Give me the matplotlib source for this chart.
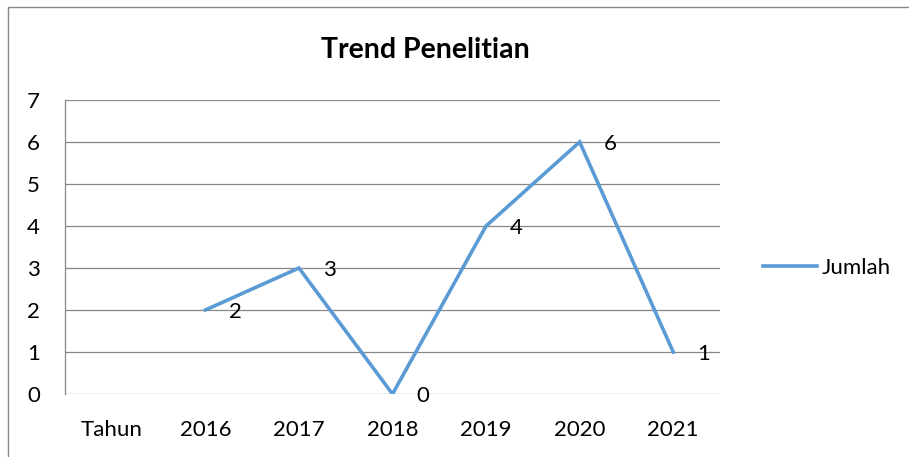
import numpy as np
from matplotlib import pyplot as plt
from matplotlib.patches import Rectangle

plt.rcParams['font.family'] = ['Lato', 'DejaVu Sans']

# data
categories = ["Tahun", "2016", "2017", "2018", "2019", "2020", "2021"]
jumlah = [np.nan, 2, 3, 0, 4, 6, 1]
labels = ["", "2", "3", "0", "4", "6", "1"]

W, H = 909, 457
fig = plt.figure(figsize=(W / 100, H / 100), dpi=100)
ax = fig.add_axes([65 / W, 1 - 394 / H, (720 - 65) / W, (394 - 100) / H])

x = np.arange(len(categories))
ax.plot(x, jumlah, color='#5B9BD5', lw=2.6, solid_joinstyle='miter', label='Jumlah')

for xi, yi, lab in zip(x, jumlah, labels):
    if lab:
        ax.annotate(lab, (xi, yi), xytext=(17, -1.5), textcoords='offset points',
                    ha='left', va='center', fontsize=16)

ax.set_xlim(-0.5, len(categories) - 0.5)
ax.set_ylim(0, 7)
ax.set_yticks(range(8))
ax.set_xticks(x)
ax.set_xticklabels(categories)
ax.tick_params(axis='both', length=0, labelsize=16)
ax.tick_params(axis='x', pad=19)
ax.tick_params(axis='y', pad=18)
ax.grid(axis='y', color='#878787', lw=0.9)
ax.set_axisbelow(True)
for s in ['top', 'right', 'bottom']:
    ax.spines[s].set_visible(False)
ax.spines['left'].set_color('#878787')
ax.spines['left'].set_linewidth(0.9)

fig.text(425 / W, 1 - 50 / H, "Trend Penelitian", ha='center', va='center',
         fontsize=20.5, fontweight='bold')

fig.legend(loc='center left', bbox_to_anchor=(743 / W, 1 - 268 / H), frameon=False,
           fontsize=16, handlelength=2.45, handletextpad=0.2)

# chart border
fig.patches.append(Rectangle((8 / W, -0.1), 1, 1 - 7 / H + 0.1, transform=fig.transFigure,
                             fill=False, edgecolor='#888888', lw=1))

fig.savefig('out.png', dpi=100)
